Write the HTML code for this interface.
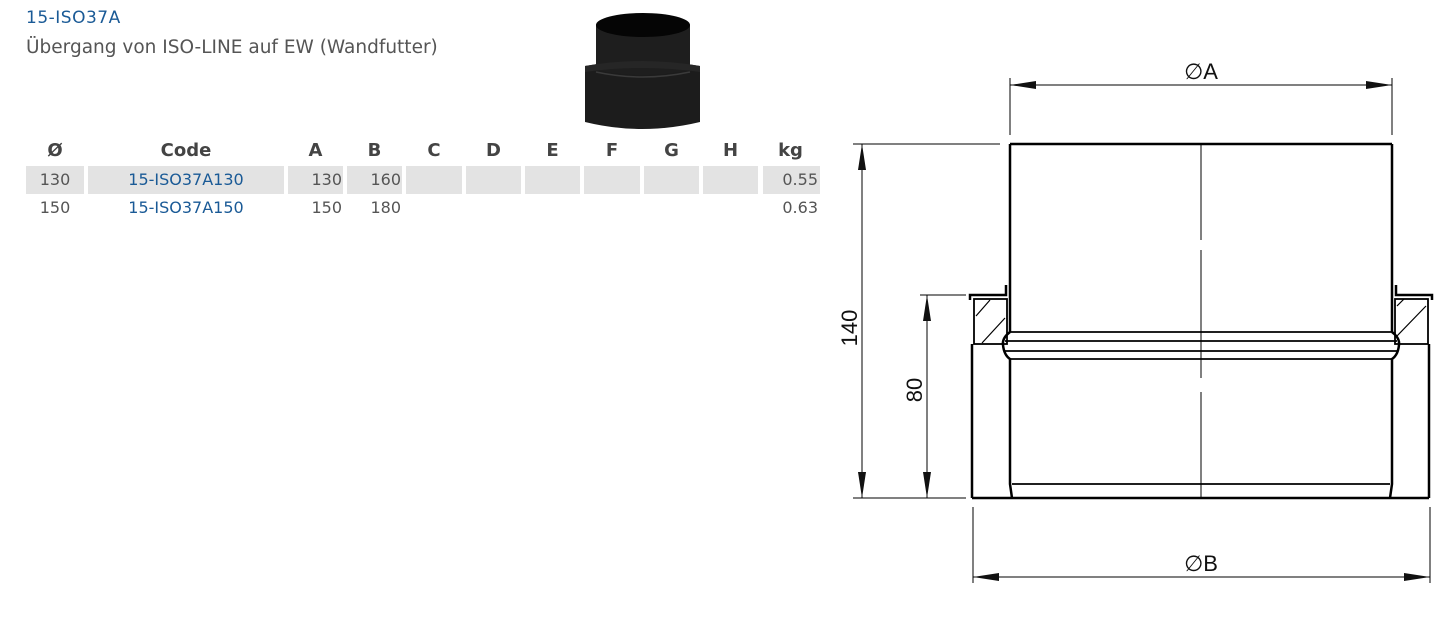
<!DOCTYPE html>
<html><head><meta charset="utf-8"><style>
body{margin:0;background:#fff;width:1445px;height:622px;position:relative;overflow:hidden;font-family:"DejaVu Sans","Liberation Sans",sans-serif;}
.t{position:absolute;white-space:nowrap}
.cell{position:absolute;height:28px;top:166px;background:#e3e3e3}
.h{position:absolute;top:140px;font-weight:bold;font-size:18px;color:#444;text-align:center}
.r{position:absolute;font-size:16px;color:#555;white-space:nowrap}
.code{color:#1a5a96}
</style></head><body>
<div class="t" style="left:26px;top:8px;font-size:17px;color:#1a5a96;letter-spacing:0.5px">15-ISO37A</div>
<div class="t" style="left:26px;top:37px;font-size:18.5px;color:#555">Übergang von ISO-LINE auf EW (Wandfutter)</div>

<svg style="position:absolute;left:575px;top:0px" width="140" height="140">
<path d="M10 66 L10 122 Q67 136 125 122 L125 66 Q67 56 10 66Z" fill="#1c1c1c"/>
<path d="M21 25 L21 70 Q67 80 115 70 L115 25 Z" fill="#1e1e1e"/>
<path d="M10 66 Q67 56 125 66 L125 72 Q67 64 10 72Z" fill="#262626"/>
<ellipse cx="68" cy="25" rx="47" ry="12" fill="#050505"/>
<path d="M21 72 Q67 82 115 72" stroke="#3a3a3a" stroke-width="1.5" fill="none"/>
</svg>

<div class="h" style="left:26px;width:58px">Ø</div>
<div class="h" style="left:88px;width:196px">Code</div>
<div class="h" style="left:288px;width:55px">A</div>
<div class="h" style="left:347px;width:55px">B</div>
<div class="h" style="left:406px;width:56px">C</div>
<div class="h" style="left:466px;width:55px">D</div>
<div class="h" style="left:525px;width:55px">E</div>
<div class="h" style="left:584px;width:56px">F</div>
<div class="h" style="left:644px;width:55px">G</div>
<div class="h" style="left:703px;width:55px">H</div>
<div class="h" style="left:763px;width:55px">kg</div>

<div class="cell" style="left:26px;width:58px"></div>
<div class="cell" style="left:88px;width:196px"></div>
<div class="cell" style="left:288px;width:55px"></div>
<div class="cell" style="left:347px;width:55px"></div>
<div class="cell" style="left:406px;width:56px"></div>
<div class="cell" style="left:466px;width:55px"></div>
<div class="cell" style="left:525px;width:55px"></div>
<div class="cell" style="left:584px;width:56px"></div>
<div class="cell" style="left:644px;width:55px"></div>
<div class="cell" style="left:703px;width:55px"></div>
<div class="cell" style="left:763px;width:57px"></div>

<div class="r" style="left:26px;width:58px;text-align:center;top:170px">130</div>
<div class="r code" style="left:88px;width:196px;text-align:center;top:170px">15-ISO37A130</div>
<div class="r" style="left:288px;width:54px;text-align:right;top:170px">130</div>
<div class="r" style="left:347px;width:54px;text-align:right;top:170px">160</div>
<div class="r" style="left:763px;width:55px;text-align:right;top:170px">0.55</div>
<div class="r" style="left:26px;width:58px;text-align:center;top:198px">150</div>
<div class="r code" style="left:88px;width:196px;text-align:center;top:198px">15-ISO37A150</div>
<div class="r" style="left:288px;width:54px;text-align:right;top:198px">150</div>
<div class="r" style="left:347px;width:54px;text-align:right;top:198px">180</div>
<div class="r" style="left:763px;width:55px;text-align:right;top:198px">0.63</div>

<svg style="position:absolute;left:0;top:0" width="1445" height="622">
<g stroke="#000" fill="none">
<g stroke-width="1">
<line x1="1010" y1="78" x2="1010" y2="135"/><line x1="1392" y1="78" x2="1392" y2="135"/>
<line x1="1010" y1="85" x2="1392" y2="85"/>
<line x1="853" y1="144" x2="1000" y2="144"/><line x1="853" y1="498" x2="966" y2="498"/>
<line x1="862" y1="144" x2="862" y2="498"/>
<line x1="920" y1="295" x2="966" y2="295"/>
<line x1="927" y1="295" x2="927" y2="498"/>
<line x1="973" y1="507" x2="973" y2="583"/><line x1="1430" y1="507" x2="1430" y2="583"/>
<line x1="973" y1="577" x2="1430" y2="577"/>
<line x1="1201" y1="144" x2="1201" y2="240"/><line x1="1201" y1="250" x2="1201" y2="378"/><line x1="1201" y1="392" x2="1201" y2="498"/>
</g>
<g fill="#111" stroke="none">
<polygon points="1010,85 1036,81 1036,89"/><polygon points="1392,85 1366,81 1366,89"/>
<polygon points="862,144 858,170 866,170"/><polygon points="862,498 858,472 866,472"/>
<polygon points="927,295 923,321 931,321"/><polygon points="927,498 923,472 931,472"/>
<polygon points="973,577 999,573 999,581"/><polygon points="1430,577 1404,573 1404,581"/>
</g>
<g stroke-width="2.5">
<line x1="1010" y1="144" x2="1392" y2="144"/>
<line x1="1010" y1="144" x2="1010" y2="332"/><line x1="1392" y1="144" x2="1392" y2="332"/>
<line x1="972" y1="344" x2="972" y2="498"/><line x1="1429" y1="344" x2="1429" y2="498"/>
<line x1="972" y1="498" x2="1429" y2="498"/>
<path d="M970 300 L970 295 L1006 295 L1006 285"/>
<path d="M1432 300 L1432 295 L1396 295 L1396 285"/>
<path d="M1010 332 Q1002 338 1003 345 Q1004 355 1010 359 L1010 484 L1012 498"/>
<path d="M1392 332 Q1400 338 1399 345 Q1398 355 1392 359 L1392 484 L1390 498"/>
</g>
<g stroke-width="1.8">
<line x1="1010" y1="332" x2="1392" y2="332"/>
<line x1="1005" y1="341" x2="1397" y2="341"/>
<line x1="1005" y1="351" x2="1397" y2="351"/>
<line x1="1010" y1="359" x2="1392" y2="359"/>
<line x1="1012" y1="484" x2="1390" y2="484"/>
<rect x="974" y="299" width="33" height="45"/>
<rect x="1395" y="299" width="33" height="45"/>
</g>
<g stroke-width="1.2">
<line x1="976" y1="316" x2="990" y2="300"/><line x1="982" y1="343" x2="1005" y2="318"/>
<line x1="1397" y1="336" x2="1426" y2="306"/><line x1="1397" y1="306" x2="1404" y2="299"/>
</g>
</g>
<g font-family="Liberation Sans, sans-serif" font-size="22" fill="#111">
<text x="1201" y="79" text-anchor="middle">∅A</text>
<text x="1201" y="571" text-anchor="middle">∅B</text>
<text transform="translate(857,328) rotate(-90)" text-anchor="middle">140</text>
<text transform="translate(922,390) rotate(-90)" text-anchor="middle">80</text>
</g>
</svg>
</body></html>
